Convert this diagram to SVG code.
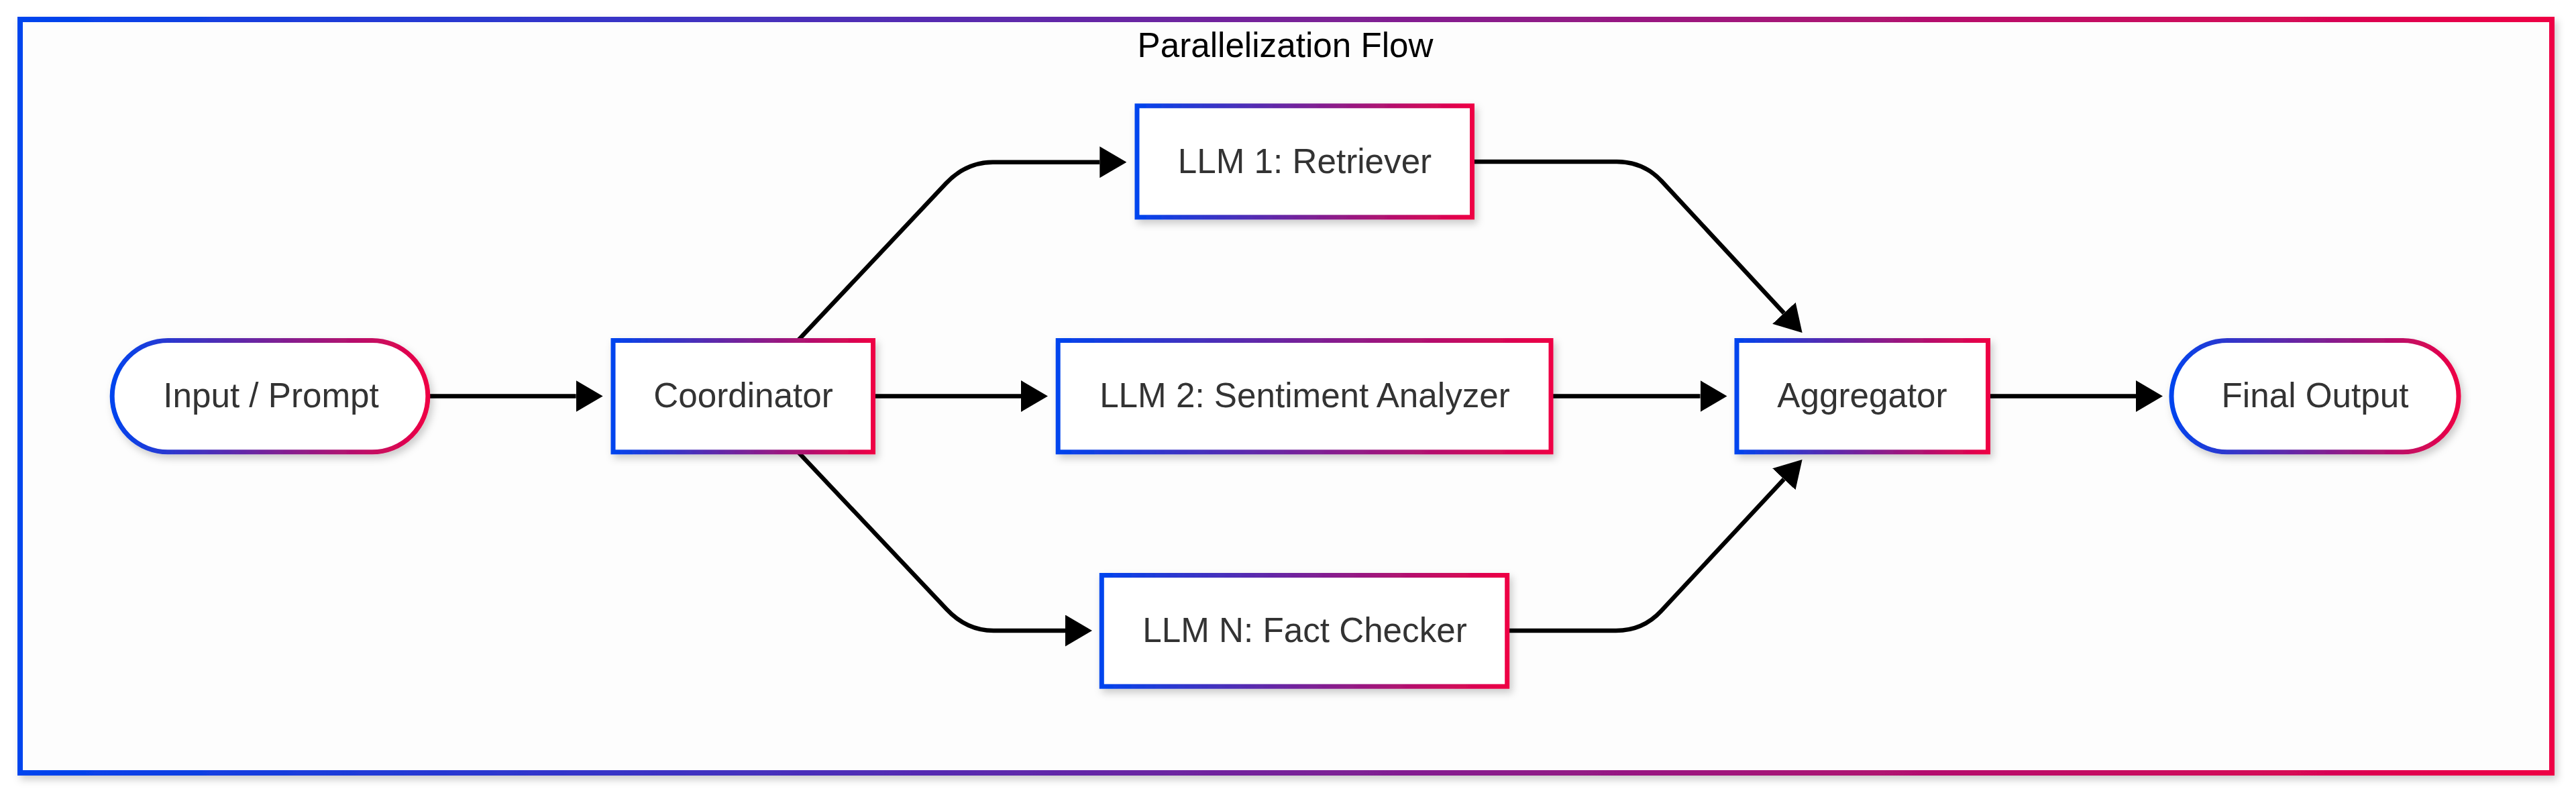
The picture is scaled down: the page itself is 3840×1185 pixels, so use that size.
<svg xmlns="http://www.w3.org/2000/svg" width="3840" height="1185" viewBox="0 0 3840 1185">
  <style>
    .node rect { fill: #ffffff; stroke: url(#grad); stroke-width: 7; filter: url(#shadow); }
    .lbl { font-family: "Liberation Sans", Arial, Helvetica, sans-serif; font-size: 51.2px; fill: #333333; text-anchor: middle; }
    .title { font-family: "Liberation Sans", Arial, Helvetica, sans-serif; font-size: 51.2px; fill: #000000; text-anchor: middle; }
    .edge { fill: none; stroke: #000000; stroke-width: 6.4; marker-end: url(#arrow); }
  </style>
  <defs>
    <linearGradient id="grad" x1="0" y1="0" x2="1" y2="0">
      <stop offset="0" stop-color="#0044EE"/>
      <stop offset="1" stop-color="#EE0044"/>
    </linearGradient>
    <linearGradient id="fgrad" gradientUnits="userSpaceOnUse" x1="30" y1="0" x2="3804" y2="0">
      <stop offset="0" stop-color="#0044EE"/>
      <stop offset="1" stop-color="#EE0044"/>
    </linearGradient>
    <filter id="shadow" x="-10%" y="-20%" width="120%" height="150%">
      <feDropShadow dx="4" dy="6" stdDeviation="6" flood-color="#000000" flood-opacity="0.2"/>
    </filter>
    <marker id="arrow" markerUnits="userSpaceOnUse" markerWidth="40" markerHeight="47" refX="0" refY="23.5" orient="auto" viewBox="0 0 40 47">
      <path d="M0,0 L40,23.5 L0,47 Z" fill="#000000"/>
    </marker>
  </defs>
  <rect x="0" y="0" width="3840" height="1185" fill="#ffffff"/>
  <g id="frame">
    <rect x="30" y="29" width="3774" height="1123" fill="#fdfdfd" stroke="url(#fgrad)" stroke-width="8" filter="url(#shadow)"/>
    <text class="title" x="1916" y="85">Parallelization Flow</text>
  </g>
  <g id="connectors">
    <path class="edge" d="M641,590.5 L858.7,590.5"/>
    <path class="edge" d="M1305,590.5 L1522,590.5"/>
    <path class="edge" d="M2315,590.5 L2534.5,590.5"/>
    <path class="edge" d="M2967,590.5 L3184,590.5"/>
    <path class="edge" d="M1190,507 L1410,273.5 Q1440,241.7 1480,241.7 L1639.3,241.7"/>
    <path class="edge" d="M1190,674 L1411,908 Q1441,940 1481,940 L1588,940"/>
    <path class="edge" d="M2197,241 L2410,241 Q2450,241 2477,270 L2659.4,466.7"/>
    <path class="edge" d="M2250,940 L2409,940 Q2449,940 2476,911 L2659.3,714.2"/>
  </g>
  <g id="input" class="node">
    <rect x="167.2" y="507.5" width="470.6" height="166.3" rx="83" ry="83"/>
    <text class="lbl" x="404" y="607">Input / Prompt</text>
  </g>
  <g id="coordinator" class="node">
    <rect x="914" y="507.5" width="387.5" height="166.3"/>
    <text class="lbl" x="1108" y="607">Coordinator</text>
  </g>
  <g id="llm1" class="node">
    <rect x="1695" y="157.8" width="499.5" height="166"/>
    <text class="lbl" x="1945" y="258">LLM 1: Retriever</text>
  </g>
  <g id="llm2" class="node">
    <rect x="1577.2" y="507.5" width="734.8" height="166.3"/>
    <text class="lbl" x="1945" y="607">LLM 2: Sentiment Analyzer</text>
  </g>
  <g id="llmn" class="node">
    <rect x="1642.3" y="857.5" width="604.4" height="165.7"/>
    <text class="lbl" x="1945" y="957">LLM N: Fact Checker</text>
  </g>
  <g id="aggregator" class="node">
    <rect x="2589" y="507.5" width="374.5" height="166.3"/>
    <text class="lbl" x="2776" y="607">Aggregator</text>
  </g>
  <g id="final" class="node">
    <rect x="3237" y="507.5" width="428" height="166.3" rx="83" ry="83"/>
    <text class="lbl" x="3451" y="607">Final Output</text>
  </g>
</svg>
